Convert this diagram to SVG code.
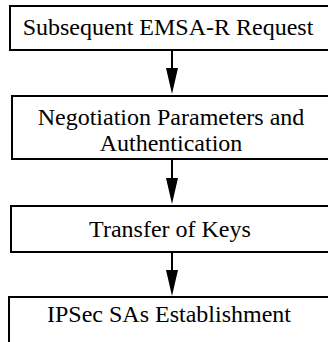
<svg xmlns="http://www.w3.org/2000/svg" width="328" height="342" viewBox="0 0 328 342">
<defs>
<style>
.box{fill:#fff;stroke:#000;stroke-width:2}
.t{font-family:"Liberation Serif","Times New Roman",serif;font-size:24px;fill:#000;text-anchor:middle}
.c{stroke:#000;stroke-width:2;fill:none}
</style>
</defs>
<rect width="328" height="342" fill="#fff"/>
<g id="n1"><rect class="box" x="10" y="6" width="322" height="44"/><text class="t" x="168" y="35">Subsequent EMSA-R Request</text></g>
<g id="n2"><rect class="box" x="12" y="96" width="320" height="63"/><text class="t" x="171" y="125">Negotiation Parameters and</text><text class="t" x="171" y="151">Authentication</text></g>
<g id="n3"><rect class="box" x="11" y="206" width="321" height="46"/><text class="t" x="170" y="237">Transfer of Keys</text></g>
<g id="n4"><rect class="box" x="9" y="297" width="323" height="50"/><text class="t" x="169" y="322">IPSec SAs Establishment</text></g>
<g id="connectors">
<path class="c" d="M172,50 V70"/><path d="M166,68 L178,68 L172,94 Z"/>
<path class="c" d="M172,159 V180"/><path d="M166,178 L178,178 L172,204 Z"/>
<path class="c" d="M172,252 V272"/><path d="M166,270 L178,270 L172,296 Z"/>
</g>
</svg>
